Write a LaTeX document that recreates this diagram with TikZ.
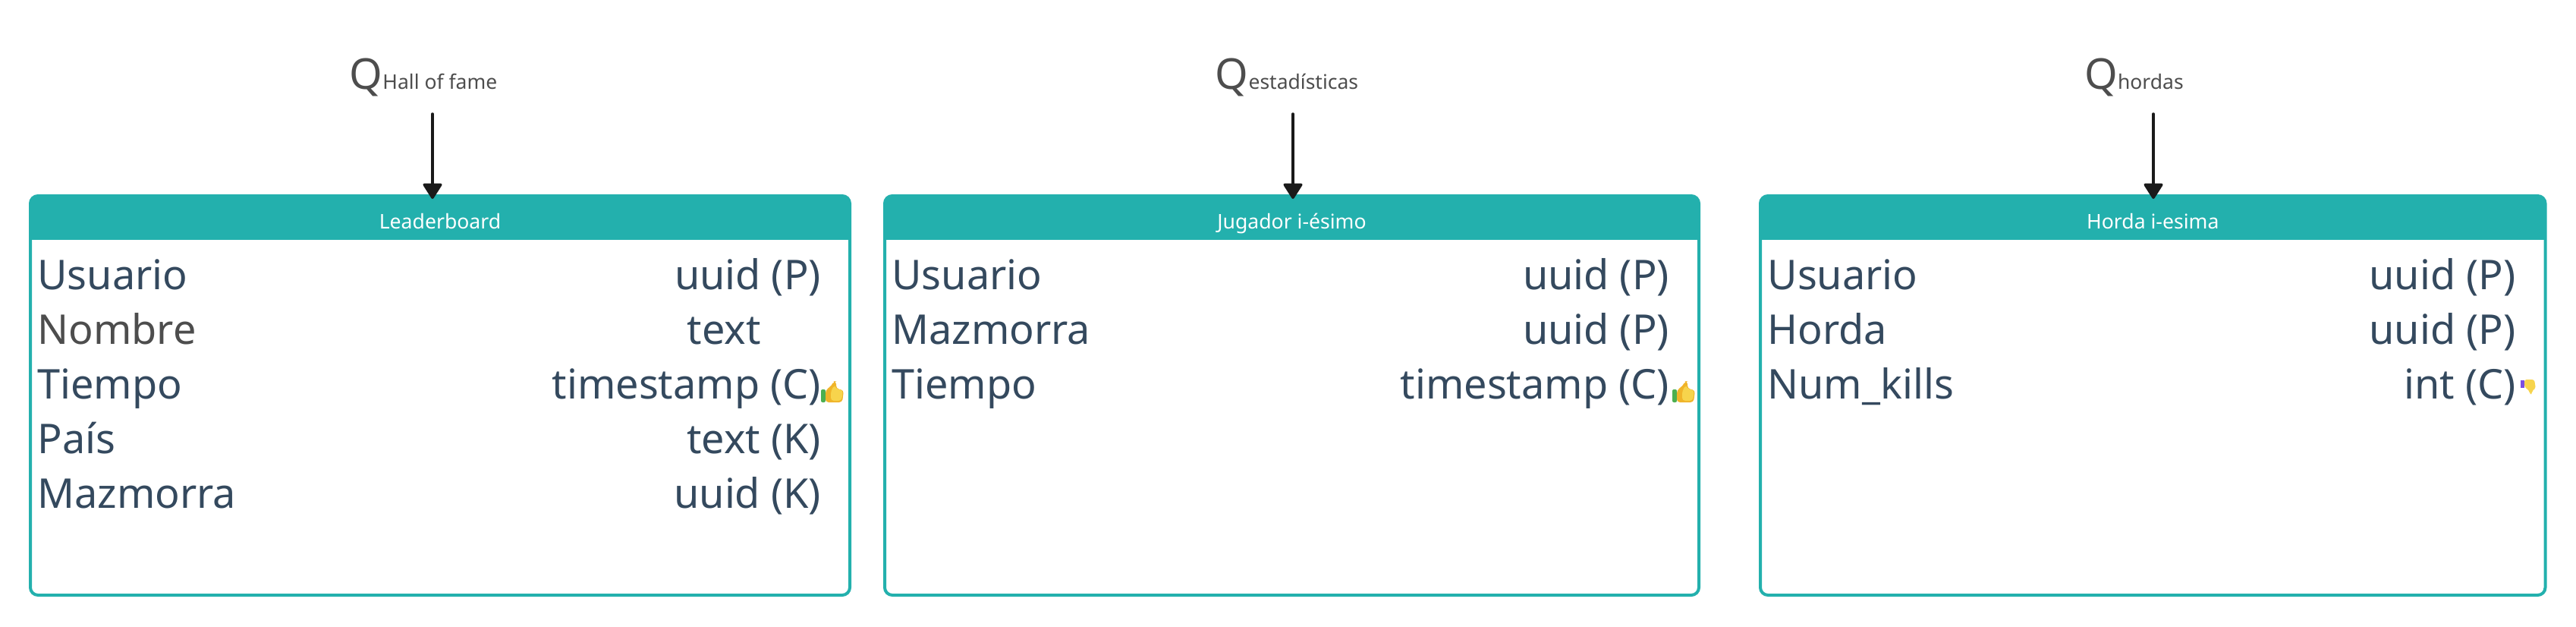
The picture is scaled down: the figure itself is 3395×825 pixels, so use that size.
\documentclass[tikz,border=0pt]{standalone}
\usepackage{fontspec}
\setmainfont{Noto Sans}
\usetikzlibrary{positioning}
\usetikzlibrary{arrows.meta}
\definecolor{tealc}{HTML}{23B0AD}
\definecolor{rowc}{HTML}{34495E}
\definecolor{grayc}{HTML}{4D4D4D}
\definecolor{arrowc}{HTML}{1A1A1A}
\definecolor{cuffup}{HTML}{4CAF50}
\definecolor{cuffdown}{HTML}{7B4FE0}
\definecolor{handlight}{HTML}{F7D44C}
\definecolor{handdark}{HTML}{F0B429}
\tikzset{
	tablebox/.style={draw=tealc, line width=2pt, rounded corners=5pt, minimum height=263pt, outer sep=0pt, inner sep=0pt,
		path picture={\fill[tealc, sharp corners] (path picture bounding box.north west) rectangle ([yshift=-29pt]path picture bounding box.north east);}},
	tablehead/.style={text=white, font=\fontsize{13.3}{13.3}\selectfont, inner sep=0pt, anchor=base},
	rowname/.style={anchor=north west, text=rowc, font=\fontsize{27}{27}\selectfont, inner sep=0pt, outer sep=0pt, text height=19pt, text depth=7pt},
	rowtype/.style={rowname, anchor=north east},
	query/.style={text=grayc, inner sep=0pt, anchor=base},
	flow/.style={-{Triangle[width=13.5pt,length=11pt,round]}, arrowc, line width=1.75pt, line cap=round, shorten >=-2pt},
	thumbup/.pic={
		\fill[cuffup, rounded corners=1pt] (0,11) rectangle (6,28);
		\fill[handdark, rounded corners=2pt] (6,12) -- (14,6) -- (17,0) -- (20,0) -- (20,10) -- (30,12) -- (28,28) -- (6,28) -- cycle;
		\fill[handlight, rounded corners=2pt] (13,13) -- (18,5) -- (19,10) -- (29,12) -- (27,26) -- (13,26) -- cycle;
	},
	thumbdown/.pic={
		\fill[cuffdown] (0,1) rectangle (5,11);
		\fill[handlight, rounded corners=1.5pt] (5,0) -- (18,0) -- (20,12) -- (16,13) -- (15,19) -- (12,19) -- (11,14) -- (5,10) -- cycle;
	}
}
\newcommand{\qname}[1]{{\fontsize{28}{28}\selectfont Q}{\fontsize{13.25}{13.25}\selectfont #1}}
\begin{document}
\begin{tikzpicture}[x=0.5pt, y=-0.5pt]
	\useasboundingbox (0,0) rectangle (3395,825);

	% queries
	\node[query] (qhall) at (558,117) {\qname{Hall of fame}};
	\node[query] (qstats) at (1696,117) {\qname{estadísticas}};
	\node[query] (qhordas) at (2812.5,117) {\qname{hordas}};
	\coordinate (ahall) at (570,150);
	\coordinate (astats) at (1704,150);
	\coordinate (ahordas) at (2838,150);

	% tables
	\node[tablebox, minimum width=540pt] (leader) at (580,521) {};
	\node[tablebox, minimum width=536.5pt] (jugador) at (1702.5,521) {};
	\node[tablebox, minimum width=517.25pt] (horda) at (2837.25,521) {};
	\node[tablehead] at ([yshift=-21.5pt]leader.north) (hleader) {Leaderboard};
	\node[tablehead] at ([yshift=-21.5pt]jugador.north) (hjugador) {Jugador i-ésimo};
	\node[tablehead] at ([yshift=-21.5pt]horda.north) (hhorda) {Horda i-esima};

	% Leaderboard
	\node[rowname, below right=42.7pt and 4.75pt of leader.north west] (l1) {Usuario};
	\node[rowname, text=grayc, below=10pt of l1.south west, anchor=north west] (l2) {Nombre};
	\node[rowname, below=10pt of l2.south west, anchor=north west] (l3) {Tiempo};
	\node[rowname, below=10pt of l3.south west, anchor=north west] (l4) {País};
	\node[rowname, below=10pt of l4.south west, anchor=north west] (l5) {Mazmorra};
	\node[rowtype, below left=42.7pt and 19pt of leader.north east] (t1) {uuid (P)};
	\node[rowtype, below=10pt of t1.south east, anchor=north east] (t2) {text\phantom{ (P)}};
	\node[rowtype, below=10pt of t2.south east, anchor=north east] (t3) {timestamp (C)};
	\node[rowtype, below=10pt of t3.south east, anchor=north east] (t4) {text (K)};
	\node[rowtype, below=10pt of t4.south east, anchor=north east] (t5) {uuid (K)};

	% Jugador
	\node[rowname, below right=42.7pt and 4.75pt of jugador.north west] (j1) {Usuario};
	\node[rowname, below=10pt of j1.south west, anchor=north west] (j2) {Mazmorra};
	\node[rowname, below=10pt of j2.south west, anchor=north west] (j3) {Tiempo};
	\node[rowtype, below left=42.7pt and 19.5pt of jugador.north east] (u1) {uuid (P)};
	\node[rowtype, below=10pt of u1.south east, anchor=north east] (u2) {uuid (P)};
	\node[rowtype, below=10pt of u2.south east, anchor=north east] (u3) {timestamp (C)};

	% Horda
	\node[rowname, below right=42.7pt and 4.75pt of horda.north west] (h1) {Usuario};
	\node[rowname, below=10pt of h1.south west, anchor=north west] (h2) {Horda};
	\node[rowname, below=10pt of h2.south west, anchor=north west] (h3) {Num\_kills};
	\node[rowtype, below left=42.7pt and 19.5pt of horda.north east] (v1) {uuid (P)};
	\node[rowtype, below=10pt of v1.south east, anchor=north east] (v2) {uuid (P)};
	\node[rowtype, below=10pt of v2.south east, anchor=north east] (v3) {int (C)};

	% icons
	\pic at (1082,502) {thumbup};
	\pic at (2204,502) {thumbup};
	\pic at (3322,500) {thumbdown};

	\draw[flow] (ahall) -- (ahall |- leader.north);
	\draw[flow] (astats) -- (astats |- jugador.north);
	\draw[flow] (ahordas) -- (ahordas |- horda.north);
\end{tikzpicture}
\end{document}
